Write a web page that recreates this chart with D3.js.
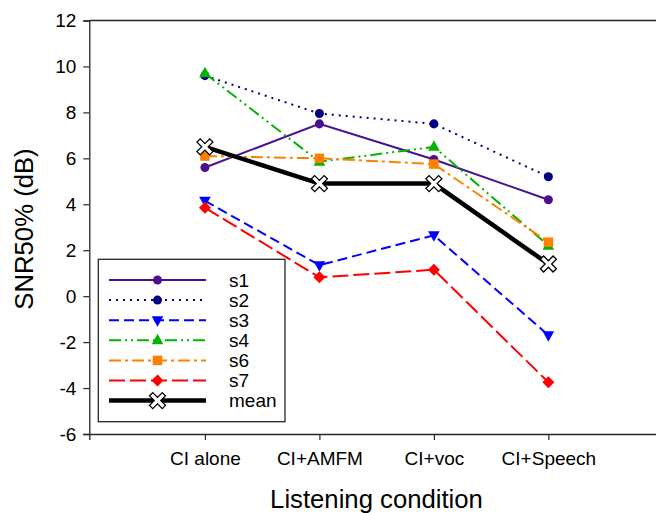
<!DOCTYPE html>
<html><head><meta charset="utf-8">
<script src="https://cdn.jsdelivr.net/npm/d3@7/dist/d3.min.js"></script>
<style>
body{margin:0;background:#fff;}
svg{display:block;font-family:"Liberation Sans",Arial,sans-serif;}
</style></head>
<body><svg id="c" width="656" height="513"></svg>
<script>
const categories = ["CI alone","CI+AMFM","CI+voc","CI+Speech"];
const s1 = [5.6, 7.5, 5.95, 4.2];
const s2 = [9.6, 7.95, 7.5, 5.2];
const s3 = [4.15, 1.35, 2.65, -1.7];
const s4 = [9.7, 5.85, 6.5, 2.2];
const s6 = [6.1, 6.0, 5.75, 2.35];
const s7 = [3.85, 0.82, 1.15, -3.75];
const mean = [6.5, 4.9, 4.9, 1.4];
const yTicks = [-6,-4,-2,0,2,4,6,8,10,12];
const seriesNames = ["s1","s2","s3","s4","s6","s7","mean"];

const series = [
  {name:"s1", vals:s1, color:"#4a1090", dash:null, width:2, marker:"circle"},
  {name:"s2", vals:s2, color:"#000080", dash:"2,5", width:2, marker:"circle"},
  {name:"s3", vals:s3, color:"#0000ff", dash:"10,5", width:2, marker:"tridown"},
  {name:"s4", vals:s4, color:"#00b400", dash:"12,4,2,4,2,4", width:2, marker:"triup"},
  {name:"s6", vals:s6, color:"#ff8000", dash:"12,4,3,4", width:2, marker:"square"},
  {name:"s7", vals:s7, color:"#ff0000", dash:"16,5", width:2, marker:"diamond"},
  {name:"mean", vals:mean, color:"#000000", dash:null, width:4.5, marker:"x"}
];

const svg = d3.select("#c");
const pLeft = 89.3, pRight = 664, pTop = 20.5, pBottom = 434;
const x = d3.scaleLinear().domain([-1.01, 4.01]).range([pLeft, pRight]);
const y = d3.scaleLinear().domain([-6, 12]).range([pBottom, pTop]);
const axisColor = "#262626";

// top frame line
svg.append("line").attr("x1", pLeft).attr("x2", pRight).attr("y1", pTop).attr("y2", pTop)
  .attr("stroke", axisColor).attr("stroke-width", 1.3);

// y axis
const yAxis = svg.append("g").attr("transform", `translate(${pLeft},0)`)
  .call(d3.axisLeft(y).tickValues(yTicks).tickSize(6).tickPadding(7).tickFormat(d => d < 0 ? "-" + Math.abs(d) : String(d)));
yAxis.select(".domain").attr("stroke", axisColor).attr("stroke-width", 1.3);
yAxis.selectAll(".tick line").attr("stroke", axisColor).attr("stroke-width", 1.2);
yAxis.selectAll("text").attr("font-size", 19).attr("fill", "#000")
  .attr("font-family", "Liberation Sans, Arial, sans-serif");

// x axis
const xAxis = svg.append("g").attr("transform", `translate(0,${pBottom})`)
  .call(d3.axisBottom(x).tickValues([0,1,2,3]).tickSize(6).tickPadding(12)
    .tickFormat(i => categories[i]));
xAxis.select(".domain").attr("stroke", axisColor).attr("stroke-width", 1.3);
xAxis.selectAll(".tick line").attr("stroke", axisColor).attr("stroke-width", 1.2);
xAxis.selectAll("text").attr("font-size", 19).attr("fill", "#000")
  .attr("font-family", "Liberation Sans, Arial, sans-serif");

// axis titles
svg.append("text").attr("x", 376.5).attr("y", 508).attr("text-anchor", "middle")
  .attr("font-size", 25.7).text("Listening condition");
svg.append("text").attr("transform", "translate(33,229) rotate(-90)").attr("text-anchor", "middle")
  .attr("font-size", 25.7).text("SNR50% (dB)");

// marker helper
function xPath(){
  const L = 9, t = 2.3;
  const pts = [[-t,-L],[t,-L],[t,-t],[L,-t],[L,t],[t,t],[t,L],[-t,L],[-t,t],[-L,t],[-L,-t],[-t,-t]];
  const c = Math.SQRT1_2;
  return "M" + pts.map(([a,b]) => [(a-b)*c,(a+b)*c].map(v=>v.toFixed(2)).join(",")).join("L") + "Z";
}
function drawMarker(g, s, cx, cy){
  const m = g.append("path").attr("transform", `translate(${cx},${cy})`);
  switch(s.marker){
    case "circle": m.attr("d", d3.symbol(d3.symbolCircle, 64)()).attr("fill", s.color); break;
    case "square": m.attr("d", d3.symbol(d3.symbolSquare, 90)()).attr("fill", s.color); break;
    case "diamond": m.attr("d", "M0,-6L6,0L0,6L-6,0Z").attr("fill", s.color); break;
    case "triup": m.attr("d", "M0,-6.5L5.8,4L-5.8,4Z").attr("fill", s.color); break;
    case "tridown": m.attr("d", "M0,6.5L5.8,-4L-5.8,-4Z").attr("fill", s.color); break;
    case "x": m.attr("d", xPath()).attr("fill", "#fff").attr("stroke", "#000").attr("stroke-width", 1.3); break;
  }
}

const line = d3.line().x((d,i) => x(i)).y(d => y(d));
const plot = svg.append("g");
series.forEach(s => {
  const g = plot.append("g");
  g.append("path").datum(s.vals).attr("d", line).attr("fill", "none")
    .attr("stroke", s.color).attr("stroke-width", s.width)
    .attr("stroke-dasharray", s.dash);
  s.vals.forEach((v,i) => drawMarker(g, s, x(i), y(v)));
});

// legend
const lg = svg.append("g");
lg.append("rect").attr("x", 98.3).attr("y", 259.3).attr("width", 186.7).attr("height", 162.4)
  .attr("fill", "#fff").attr("stroke", axisColor).attr("stroke-width", 1.3);
series.forEach((s, k) => {
  const yy = 280 + k * 20.1;
  const g = lg.append("g");
  g.append("line").attr("x1", 109).attr("x2", 206).attr("y1", yy).attr("y2", yy)
    .attr("stroke", s.color).attr("stroke-width", s.width).attr("stroke-dasharray", s.dash);
  drawMarker(g, s, 157.5, yy);
  g.append("text").attr("x", 229).attr("y", yy + 6.5).attr("font-size", 19).text(seriesNames[k]);
});
</script></body></html>
